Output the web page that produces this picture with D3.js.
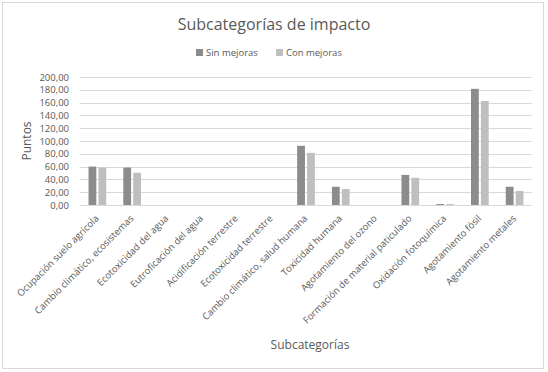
<!DOCTYPE html>
<html><head><meta charset="utf-8">
<script src="https://cdn.jsdelivr.net/npm/d3@7"></script>
<style>body{margin:0;background:#fff;}svg{display:block;font-family:"Open Sans",sans-serif;}</style>
</head><body><svg id="c" width="548" height="372"></svg>
<script>
const categories = ["Ocupación suelo agrícola","Cambio climático, ecosistemas","Ecotoxicidad del agua","Eutroficación del agua","Acidificación terrestre","Ecotoxicidad terrestre","Cambio climático, salud humana","Toxicidad humana","Agotamiento del ozono","Formación de material paticulado","Oxidación fotoquímica","Agotamiento fósil","Agotamiento metales"];
const sinMejoras = [60, 58.5, 0, 0, 0, 0, 92.5, 28.5, 0, 47, 1.5, 181.5, 28.5];
const conMejoras = [58.5, 50.5, 0, 0, 0, 0, 81.5, 25, 0, 42.5, 1.5, 162.5, 22];
const seriesNames = ["Sin mejoras","Con mejoras"];
const yTicks = [0,20,40,60,80,100,120,140,160,180,200];
const colors = ["#8c8c8c","#bfbfbf"];

const svg = d3.select("#c");
svg.append("rect").attr("x",2.5).attr("y",2.5).attr("width",541).attr("height",366)
  .attr("fill","#fff").attr("stroke","#d9d9d9");

const x = d3.scaleBand().domain(categories).range([80,532]);
const y = d3.scaleLinear().domain([0,200]).range([205,77]);
const fmt = v => d3.format(".2f")(v).replace(".",",");

svg.append("g").selectAll("line").data(yTicks).join("line")
  .attr("x1",80).attr("x2",532).attr("y1",d=>Math.round(y(d))+0.5).attr("y2",d=>Math.round(y(d))+0.5)
  .attr("stroke","#d9d9d9");

const yAxis = svg.append("g").attr("transform","translate(80,0)")
  .call(d3.axisLeft(y).tickValues(yTicks).tickFormat(fmt).tickSize(0).tickPadding(11));
yAxis.select(".domain").remove();
yAxis.selectAll("text").attr("fill","#595959").style("font-size","9.5px").style("font-family","Open Sans");

const bw = x.bandwidth();
const w = bw/4.46;
const data = [sinMejoras, conMejoras];
data.forEach((arr,si)=>{
  svg.append("g").selectAll("rect").data(arr.map((v,i)=>({c:categories[i],v}))).join("rect")
    .attr("x",d=>x(d.c)+bw/2 - (w+w*0.27/2) + si*(w*1.27))
    .attr("width",w)
    .attr("y",d=>y(d.v)).attr("height",d=>y(0)-y(d.v))
    .attr("fill",colors[si]);
});

const xg = svg.append("g");
xg.selectAll("text").data(categories).join("text")
  .attr("transform",d=>`translate(${x(d)+bw/2+2},${219}) rotate(-45)`)
  .attr("text-anchor","end").attr("fill","#595959")
  .style("font-size","9.5px").text(d=>d);

svg.append("text").attr("x",274).attr("y",30).attr("text-anchor","middle")
  .attr("fill","#595959").style("font-size","16px").text("Subcategorías de impacto");

const leg = [{n:seriesNames[0],x:196},{n:seriesNames[1],x:276}];
leg.forEach((l,i)=>{
  svg.append("rect").attr("x",l.x).attr("y",49).attr("width",7).attr("height",7).attr("fill",colors[i]);
  svg.append("text").attr("x",l.x+10).attr("y",56).attr("fill","#595959").style("font-size","9.5px").text(l.n);
});

svg.append("text").attr("transform","translate(31,141) rotate(-90)").attr("text-anchor","middle")
  .attr("fill","#595959").style("font-size","12px").text("Puntos");
svg.append("text").attr("x",310).attr("y",349).attr("text-anchor","middle")
  .attr("fill","#595959").style("font-size","12px").text("Subcategorías");
</script></body></html>
